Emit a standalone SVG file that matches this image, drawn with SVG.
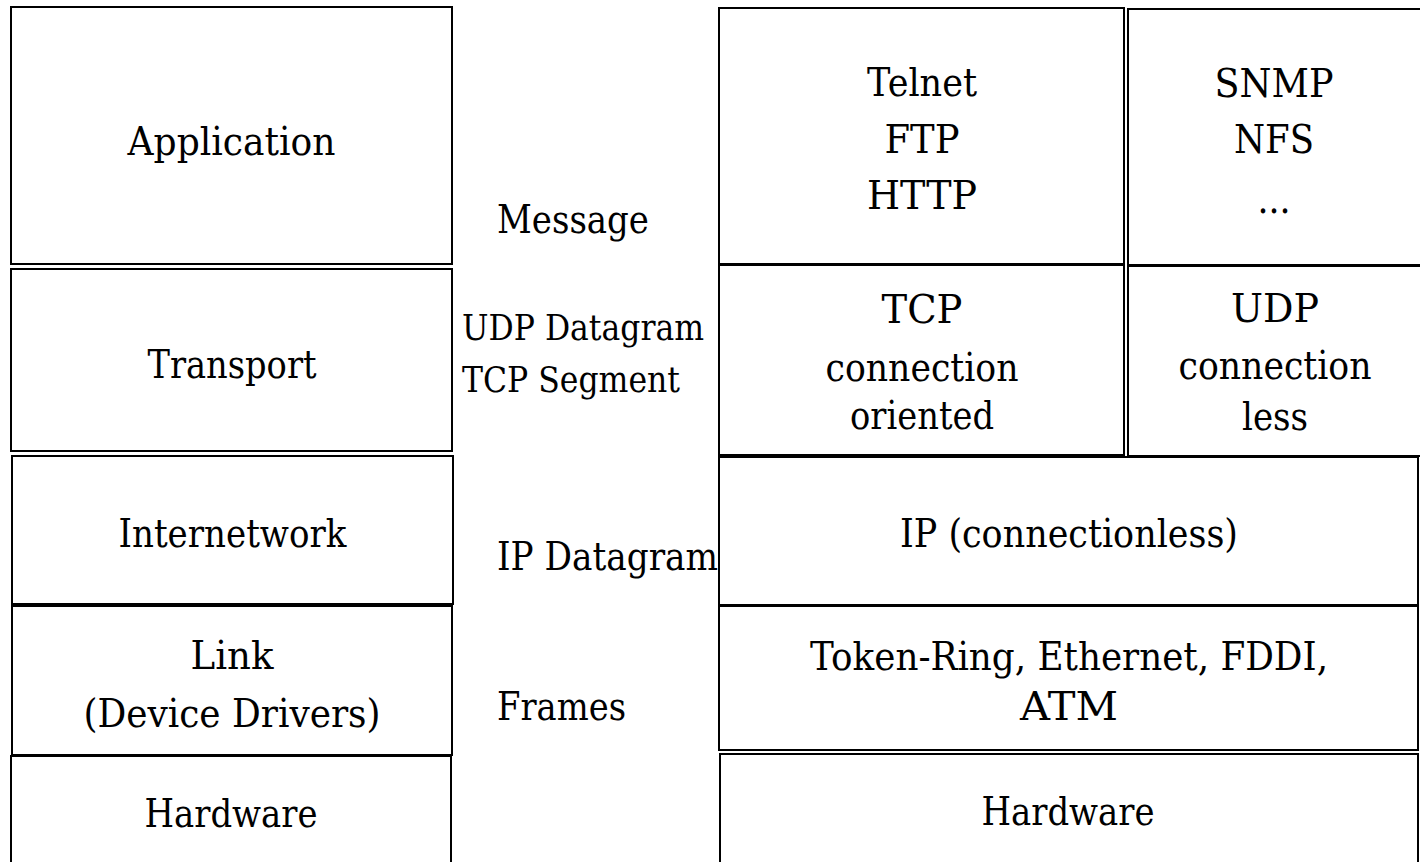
<svg xmlns="http://www.w3.org/2000/svg" width="1420" height="862" viewBox="0 0 1420 862">
<style>
rect.box{fill:#fff;stroke:#000;stroke-width:2}
text{font-family:'DejaVu Serif',serif;font-size:40px;fill:#000}
text.c{text-anchor:middle}
text.s{font-size:35.5px}
</style>
<rect x="0" y="0" width="1420" height="862" fill="#fff"/>
<g id="application"><rect class="box" x="11" y="7" width="441" height="257"/><text class="c" x="231.5" y="155" textLength="208" lengthAdjust="spacingAndGlyphs">Application</text></g>
<g id="transport"><rect class="box" x="11" y="269" width="441" height="182"/><text class="c" x="232" y="378" textLength="169" lengthAdjust="spacingAndGlyphs">Transport</text></g>
<g id="internetwork"><rect class="box" x="12" y="456" width="441" height="148"/><text class="c" x="232.5" y="547" textLength="228" lengthAdjust="spacingAndGlyphs">Internetwork</text></g>
<g id="link"><rect class="box" x="12" y="606" width="440" height="149"/><text class="c" x="232" y="669" textLength="83" lengthAdjust="spacingAndGlyphs">Link</text><text class="c" x="232" y="727" textLength="297" lengthAdjust="spacingAndGlyphs">(Device Drivers)</text></g>
<g id="hardware-left"><rect class="box" x="11" y="756" width="440" height="130"/><text class="c" x="231" y="827" textLength="173" lengthAdjust="spacingAndGlyphs">Hardware</text></g>
<g id="label-message"><text x="497" y="233" textLength="152" lengthAdjust="spacingAndGlyphs">Message</text></g>
<g id="label-transport"><text class="s" x="462" y="340" textLength="242" lengthAdjust="spacingAndGlyphs">UDP Datagram</text><text class="s" x="462" y="392" textLength="218" lengthAdjust="spacingAndGlyphs">TCP Segment</text></g>
<g id="label-ip"><text x="497" y="570" textLength="221" lengthAdjust="spacingAndGlyphs">IP Datagram</text></g>
<g id="label-frames"><text x="497" y="720" textLength="129" lengthAdjust="spacingAndGlyphs">Frames</text></g>
<g id="apps-tcp"><rect class="box" x="719" y="8" width="405" height="256"/><text class="c" x="922" y="96" textLength="110" lengthAdjust="spacingAndGlyphs">Telnet</text><text class="c" x="922" y="153" textLength="75" lengthAdjust="spacingAndGlyphs">FTP</text><text class="c" x="922" y="209" textLength="110" lengthAdjust="spacingAndGlyphs">HTTP</text></g>
<g id="apps-udp"><rect class="box" x="1128" y="9" width="310" height="256"/><text class="c" x="1274" y="97" textLength="119" lengthAdjust="spacingAndGlyphs">SNMP</text><text class="c" x="1274" y="153" textLength="80" lengthAdjust="spacingAndGlyphs">NFS</text><text class="c" x="1274" y="213" textLength="33" lengthAdjust="spacingAndGlyphs">...</text></g>
<g id="tcp"><rect class="box" x="719" y="265" width="405" height="190"/><text class="c" x="922" y="323" textLength="81" lengthAdjust="spacingAndGlyphs">TCP</text><text class="c" x="922" y="381" textLength="193" lengthAdjust="spacingAndGlyphs">connection</text><text class="c" x="922" y="429" textLength="144" lengthAdjust="spacingAndGlyphs">oriented</text></g>
<g id="udp"><rect class="box" x="1128" y="266" width="310" height="190"/><text class="c" x="1275" y="322" textLength="88" lengthAdjust="spacingAndGlyphs">UDP</text><text class="c" x="1275" y="379" textLength="193" lengthAdjust="spacingAndGlyphs">connection</text><text class="c" x="1275" y="430" textLength="66" lengthAdjust="spacingAndGlyphs">less</text></g>
<g id="ip"><rect class="box" x="719" y="457" width="699" height="148"/><text class="c" x="1069" y="547" textLength="338" lengthAdjust="spacingAndGlyphs">IP (connectionless)</text></g>
<g id="linklayer"><rect class="box" x="719" y="606" width="699" height="144"/><text class="c" x="1069" y="670" textLength="518" lengthAdjust="spacingAndGlyphs">Token-Ring, Ethernet, FDDI,</text><text class="c" x="1069" y="720" textLength="98" lengthAdjust="spacingAndGlyphs">ATM</text></g>
<g id="hardware-right"><rect class="box" x="720" y="754" width="698" height="130"/><text class="c" x="1068" y="825" textLength="173" lengthAdjust="spacingAndGlyphs">Hardware</text></g>
<g id="connectors"></g>
</svg>
